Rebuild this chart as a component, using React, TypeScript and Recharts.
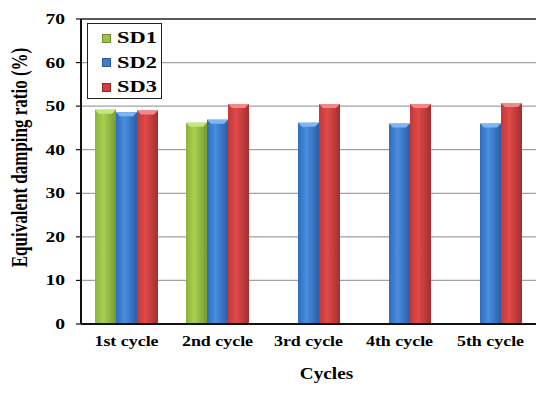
import React from 'react';
import {
  BarChart,
  Bar,
  XAxis,
  YAxis,
  CartesianGrid,
  Legend,
  ReferenceLine,
} from 'recharts';

const categories = ['1st cycle', '2nd cycle', '3rd cycle', '4th cycle', '5th cycle'];
const sd1 = [49.2, 46.2, null, null, null];
const sd2 = [48.6, 46.9, 46.2, 46.0, 46.0];
const sd3 = [49.0, 50.5, 50.5, 50.5, 50.7];
const yTicks = [0, 10, 20, 30, 40, 50, 60, 70];

const seriesNames = ['SD1', 'SD2', 'SD3'];
const seriesColors = ['#9cc447', '#3b7fd2', '#d23d3d'];
const capColors = ['#c8e67e', '#7fb6f2', '#f08a8a'];

const data = categories.map((c, i) => ({ name: c, SD1: sd1[i], SD2: sd2[i], SD3: sd3[i] }));

const FONT = '"Liberation Serif", "Times New Roman", serif';

const XTick = (props: any) => {
  const { x, y, payload } = props;
  return (
    <text
      transform={`translate(${x},${y}) scale(1.28,1)`}
      textAnchor="middle"
      dy={14}
      fontFamily={FONT}
      fontWeight="bold"
      fontSize={14}
      fill="#000"
    >
      {payload.value}
    </text>
  );
};

const YTick = (props: any) => {
  const { x, y, payload } = props;
  return (
    <text
      transform={`translate(${x - 2},${y}) scale(1.4,1)`}
      textAnchor="end"
      dy={5}
      fontFamily={FONT}
      fontWeight="bold"
      fontSize={14}
      fill="#000"
    >
      {payload.value}
    </text>
  );
};

const YTitle = (props: any) => {
  const vb = props.viewBox || { x: 0, y: 19, width: 81, height: 305 };
  const cx = vb.x + 19;
  const cy = vb.y + vb.height / 2 - 14;
  return (
    <text
      transform={`translate(${cx},${cy}) rotate(-90) scale(1,1.35)`}
      textAnchor="middle"
      dy={6}
      fontFamily={FONT}
      fontWeight="bold"
      fontSize={17}
      fill="#000"
    >
      Equivalent damping ratio (%)
    </text>
  );
};

const XTitle = (props: any) => {
  const vb = props.viewBox || { x: 81, y: 324, width: 455, height: 45 };
  const cx = vb.x + vb.width / 2 + 18;
  const cy = vb.y + 55;
  return (
    <text
      transform={`translate(${cx},${cy}) scale(1.2,1)`}
      textAnchor="middle"
      fontFamily={FONT}
      fontWeight="bold"
      fontSize={16}
      fill="#000"
    >
      Cycles
    </text>
  );
};

const makeShape = (idx: number) => (props: any) => {
  const { x, y, width, height } = props;
  if (!height || height <= 0) return <g />;
  const b = 4;
  return (
    <g>
      <rect x={x} y={y} width={width} height={height} fill={`url(#gSD${idx + 1})`} />
      <polygon
        points={`${x},${y} ${x + width},${y} ${x + width - b},${y + b} ${x + b},${y + b}`}
        fill={capColors[idx]}
      />
    </g>
  );
};

const LegendBox = () => (
  <div
    style={{
      width: 73,
      height: 72,
      border: '1.5px solid #222',
      background: '#fff',
      boxSizing: 'content-box',
      paddingTop: 2,
    }}
  >
    {seriesNames.map((n, i) => (
      <div key={n} style={{ display: 'flex', alignItems: 'center', height: 24.5, paddingLeft: 14 }}>
        <div
          style={{
            width: 7,
            height: 7,
            background: seriesColors[i],
            border: '0.5px solid rgba(0,0,0,0.3)',
            marginRight: 6,
          }}
        />
        <span
          style={{
            fontFamily: FONT,
            fontWeight: 'bold',
            fontSize: 16,
            color: '#000',
            display: 'inline-block',
            transform: 'scaleX(1.4)',
            transformOrigin: 'left center',
            lineHeight: 1,
          }}
        >
          {n}
        </span>
      </div>
    ))}
  </div>
);

const App: React.FC = () => {
  return (
    <div style={{ position: 'absolute', left: 0, top: 0, width: 550, height: 395, background: '#fff' }}>
      <BarChart
        width={550}
        height={395}
        data={data}
        margin={{ top: 19, right: 14, bottom: 26, left: 0 }}
        barGap={0}
        barSize={21}
      >
        <defs>
          <linearGradient id="gSD1" x1="0" y1="0" x2="1" y2="0">
            <stop offset="0%" stopColor="#8db43a" />
            <stop offset="40%" stopColor="#a8d052" />
            <stop offset="100%" stopColor="#779b2e" />
          </linearGradient>
          <linearGradient id="gSD2" x1="0" y1="0" x2="1" y2="0">
            <stop offset="0%" stopColor="#2f6cbd" />
            <stop offset="40%" stopColor="#4a8ee0" />
            <stop offset="100%" stopColor="#2a5ea6" />
          </linearGradient>
          <linearGradient id="gSD3" x1="0" y1="0" x2="1" y2="0">
            <stop offset="0%" stopColor="#c23838" />
            <stop offset="40%" stopColor="#e04a4a" />
            <stop offset="100%" stopColor="#a22e2f" />
          </linearGradient>
        </defs>
        <CartesianGrid vertical={false} stroke="#a0a0a0" strokeWidth={1.2} />
        <XAxis
          dataKey="name"
          height={45}
          tickLine={false}
          axisLine={{ stroke: '#111', strokeWidth: 2 }}
          tick={<XTick />}
          interval={0}
          label={<XTitle />}
        />
        <YAxis
          width={81}
          domain={[0, 70]}
          ticks={yTicks}
          tickSize={5}
          tickMargin={9}
          tickLine={{ stroke: '#111', strokeWidth: 1.2 }}
          axisLine={{ stroke: '#111', strokeWidth: 2 }}
          tick={<YTick />}
          label={<YTitle />}
        />
        <YAxis
          yAxisId="r"
          orientation="right"
          width={0}
          domain={[0, 70]}
          ticks={yTicks}
          tick={false}
          tickLine={false}
          axisLine={{ stroke: '#333', strokeWidth: 1.5 }}
        />
        <ReferenceLine y={70} stroke="#333" strokeWidth={1.5} />
        <Legend
          layout="horizontal"
          verticalAlign="middle"
          align="center"
          content={<LegendBox />}
          wrapperStyle={{ position: 'absolute', left: 87, top: 23, width: 'auto', height: 'auto' }}
        />
        <Bar dataKey="SD1" name="SD1" fill="#9cc447" shape={makeShape(0)} isAnimationActive={false} />
        <Bar dataKey="SD2" name="SD2" fill="#3b7fd2" shape={makeShape(1)} isAnimationActive={false} />
        <Bar dataKey="SD3" name="SD3" fill="#d23d3d" shape={makeShape(2)} isAnimationActive={false} />
      </BarChart>
    </div>
  );
};

export default App;
